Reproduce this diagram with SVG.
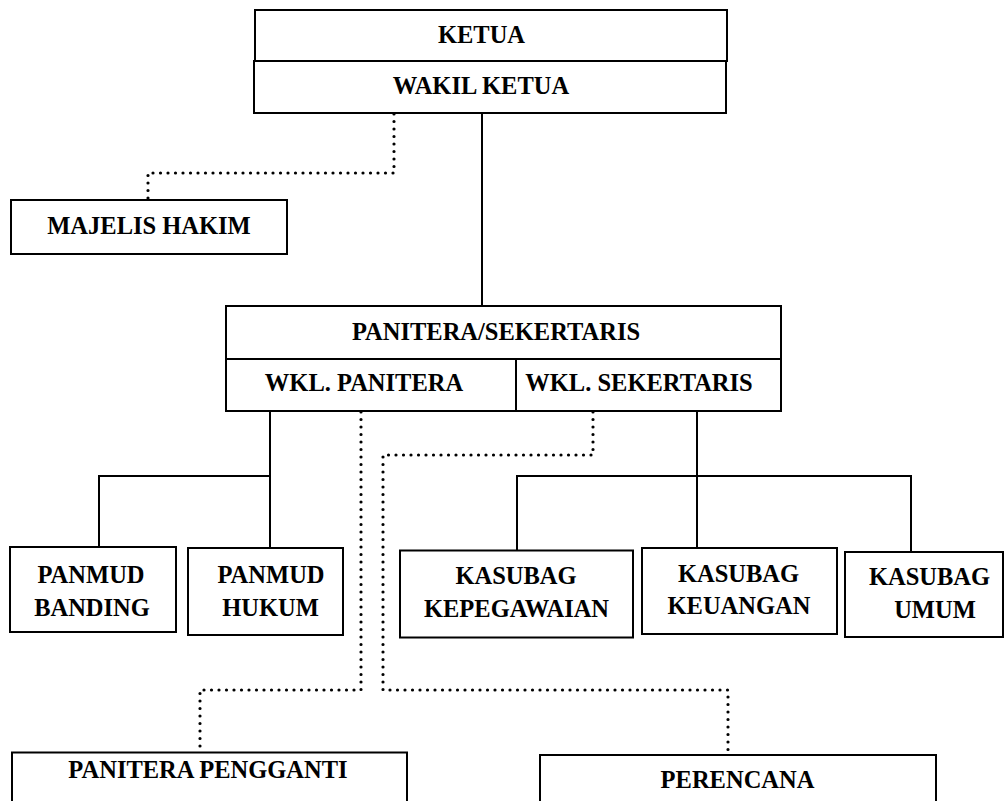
<svg xmlns="http://www.w3.org/2000/svg" width="1007" height="801" viewBox="0 0 1007 801">
<style>
.box{fill:#fff;stroke:#000;stroke-width:2}
.t{font-family:"Liberation Serif","Times New Roman",serif;font-weight:bold;font-size:24.5px;fill:#000;text-anchor:middle}
.solid{fill:none;stroke:#000;stroke-width:2}
.dot{fill:none;stroke:#000;stroke-width:3.2;stroke-linecap:round;stroke-dasharray:0 7.5}
</style>
<rect width="1007" height="801" fill="#fff"/>
<g id="connectors">
<path class="solid" d="M482 113V306"/>
<path class="dot" d="M394 114V173H148V200"/>
<path class="solid" d="M270 411V476H99V547"/>
<path class="solid" d="M270 476V548"/>
<path class="solid" d="M697 411V550"/>
<path class="solid" d="M517 550V476H911V552"/>
<path class="dot" d="M361 412V690H200V752"/>
<path class="dot" d="M593 412V455H383V690H728V755"/>
</g>
<g id="ketua">
<rect class="box" x="255" y="10" width="472" height="51"/>
<text class="t" x="481.5" y="43">KETUA</text>
</g>
<g id="wakil-ketua">
<rect class="box" x="254" y="61" width="472" height="52"/>
<text class="t" x="481" y="94">WAKIL KETUA</text>
</g>
<g id="majelis-hakim">
<rect class="box" x="11" y="200" width="276" height="54"/>
<text class="t" x="149" y="234">MAJELIS HAKIM</text>
</g>
<g id="panitera-sekertaris">
<rect class="box" x="226" y="306" width="555" height="53"/>
<text class="t" x="496" y="340">PANITERA/SEKERTARIS</text>
</g>
<g id="wkl-panitera">
<rect class="box" x="226" y="359" width="290" height="52"/>
<text class="t" x="364" y="391">WKL. PANITERA</text>
</g>
<g id="wkl-sekertaris">
<rect class="box" x="516" y="359" width="265" height="52"/>
<text class="t" x="639" y="391">WKL. SEKERTARIS</text>
</g>
<g id="panmud-banding">
<rect class="box" x="10" y="547" width="166" height="85"/>
<text class="t" x="91" y="583">PANMUD</text>
<text class="t" x="92" y="616">BANDING</text>
</g>
<g id="panmud-hukum">
<rect class="box" x="188" y="548" width="155" height="87"/>
<text class="t" x="271" y="583">PANMUD</text>
<text class="t" x="270.5" y="616">HUKUM</text>
</g>
<g id="kasubag-kepegawaian">
<rect class="box" x="400" y="550.5" width="233" height="87"/>
<text class="t" x="516" y="584">KASUBAG</text>
<text class="t" x="516.5" y="617">KEPEGAWAIAN</text>
</g>
<g id="kasubag-keuangan">
<rect class="box" x="642" y="548" width="195" height="86"/>
<text class="t" x="738.5" y="581.5">KASUBAG</text>
<text class="t" x="739" y="614">KEUANGAN</text>
</g>
<g id="kasubag-umum">
<rect class="box" x="845" y="552" width="158" height="85"/>
<text class="t" x="929.5" y="585">KASUBAG</text>
<text class="t" x="935" y="618">UMUM</text>
</g>
<g id="panitera-pengganti">
<rect class="box" x="12" y="752.5" width="395" height="70"/>
<text class="t" x="208" y="778">PANITERA PENGGANTI</text>
</g>
<g id="perencana">
<rect class="box" x="540" y="755" width="396" height="70"/>
<text class="t" x="737.5" y="788">PERENCANA</text>
</g>
</svg>
